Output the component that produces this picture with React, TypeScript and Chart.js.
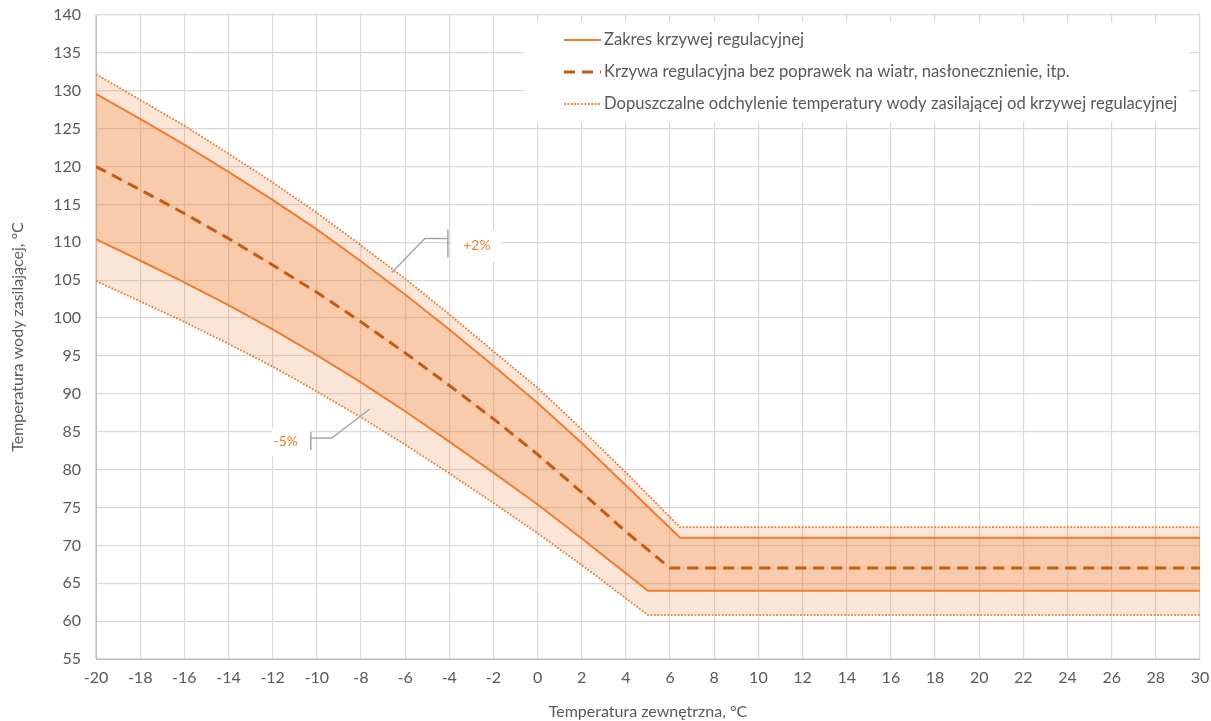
import React, { useEffect, useRef } from 'react';
import { Chart, registerables } from 'chart.js';

Chart.register(...registerables);

// Outdoor temperature (°C) points for each curve
const centerX = [-20, -18, -16, -14, -12, -10, -8, -6, -4, -2, 0, 2, 4, 6, 30];
const upperX = [-20, -18, -16, -14, -12, -10, -8, -6, -4, -2, 0, 2, 4, 6.45, 30];
const lowerX = [-20, -18, -16, -14, -12, -10, -8, -6, -4, -2, 0, 2, 4, 5, 30];

// Supply water temperature (°C)
const centerY = [120, 116.95, 113.8, 110.5, 107.0, 103.4, 99.5, 95.4, 91.1, 86.7, 82.0, 77.0, 71.8, 67, 67];
const upperY = [129.6, 126.3, 122.9, 119.3, 115.6, 111.7, 107.5, 103.1, 98.5, 93.7, 88.8, 83.5, 77.9, 71, 71];
const lowerY = [110.4, 107.6, 104.7, 101.7, 98.5, 95.1, 91.5, 87.7, 83.7, 79.6, 75.4, 70.9, 66.3, 64, 64];
const upperTolY = [132.2, 128.8, 125.4, 121.7, 117.9, 113.9, 109.6, 105.2, 100.5, 95.6, 90.8, 85.3, 79.6, 72.4, 72.4];
const lowerTolY = [104.9, 102.2, 99.5, 96.6, 93.6, 90.3, 86.9, 83.3, 79.5, 75.6, 71.6, 67.4, 63.0, 60.8, 60.8];

const legendLabels = [
  'Zakres krzywej regulacyjnej',
  'Krzywa regulacyjna bez poprawek na wiatr, nasłonecznienie, itp.',
  'Dopuszczalne odchylenie temperatury wody zasilającej od krzywej regulacyjnej',
];
const xTitle = 'Temperatura zewnętrzna, °C';
const yTitle = 'Temperatura wody zasilającej, °C';
const plusLabel = '+2%';
const minusLabel = '-5%';
// annotation anchor points (data coordinates) on the tolerance curves
const plusAnchor = { x: -6.6, y: 106.0 };
const minusAnchor = { x: -7.6, y: 88.0 };

const ORANGE = '#ED7D31';
const DARK = '#C55A11';
const TEXT = '#595959';
const FONT = 'Lato, "Open Sans", sans-serif';

const pts = (xs: number[], ys: number[]) => xs.map((x, i) => ({ x, y: ys[i] }));

const overlay = {
  id: 'overlay',
  afterDatasetsDraw(chart: any) {
    const ctx = chart.ctx as CanvasRenderingContext2D;
    const xs = chart.scales.x;
    const ys = chart.scales.y;
    ctx.save();
    // legend box
    const lx = 524, ly = 22, lw = 666, lh = 100;
    ctx.fillStyle = '#ffffff';
    ctx.fillRect(lx, ly, lw, lh);
    const rows = [40, 72, 104];
    ctx.font = `16.6px ${FONT}`;
    ctx.textBaseline = 'middle';
    ctx.textAlign = 'left';
    rows.forEach((ry, i) => {
      ctx.beginPath();
      if (i === 0) {
        ctx.strokeStyle = ORANGE; ctx.lineWidth = 2; ctx.setLineDash([]);
      } else if (i === 1) {
        ctx.strokeStyle = DARK; ctx.lineWidth = 3; ctx.setLineDash([11, 7]);
      } else {
        ctx.strokeStyle = ORANGE; ctx.lineWidth = 1.8; ctx.setLineDash([1.8, 1.6]);
      }
      ctx.moveTo(564, ry);
      ctx.lineTo(601, ry);
      ctx.stroke();
      ctx.setLineDash([]);
      ctx.fillStyle = TEXT;
      ctx.fillText(legendLabels[i], 604, ry);
    });

    // +2% annotation
    const px = xs.getPixelForValue(plusAnchor.x);
    const py = ys.getPixelForValue(plusAnchor.y);
    ctx.fillStyle = '#ffffff';
    ctx.fillRect(px + 60, py - 43, 50, 32);
    ctx.strokeStyle = '#A6A6A6';
    ctx.lineWidth = 1.5;
    ctx.beginPath();
    ctx.moveTo(px, py);
    ctx.lineTo(px + 33, py - 34);
    ctx.lineTo(px + 56, py - 34);
    ctx.moveTo(px + 56, py - 43);
    ctx.lineTo(px + 56, py - 15);
    ctx.stroke();
    ctx.fillStyle = ORANGE;
    ctx.font = `14px ${FONT}`;
    ctx.textAlign = 'center';
    ctx.fillText(plusLabel, px + 85, py - 27);

    // -5% annotation
    const mx = xs.getPixelForValue(minusAnchor.x);
    const my = ys.getPixelForValue(minusAnchor.y);
    ctx.fillStyle = '#ffffff';
    ctx.fillRect(mx - 98, my + 19, 39, 28);
    ctx.strokeStyle = '#A6A6A6';
    ctx.beginPath();
    ctx.moveTo(mx, my);
    ctx.lineTo(mx - 38, my + 29);
    ctx.lineTo(mx - 59, my + 29);
    ctx.moveTo(mx - 59, my + 23);
    ctx.lineTo(mx - 59, my + 41);
    ctx.stroke();
    ctx.fillStyle = ORANGE;
    ctx.fillText(minusLabel, mx - 84, my + 33);
    ctx.restore();
  },
};

export default function App() {
  const ref = useRef<HTMLCanvasElement>(null);
  useEffect(() => {
    document.body.style.margin = '0';
    const canvas = ref.current!;
    const chart = new Chart(canvas, {
      type: 'line',
      data: {
        datasets: [
          {
            label: 'tolUpper',
            data: pts(upperX, upperTolY),
            borderColor: ORANGE,
            borderWidth: 1.8,
            borderDash: [1.8, 1.6],
            backgroundColor: 'rgba(237,125,49,0.2)',
            fill: { target: 1 },
            pointRadius: 0,
            order: 2,
          },
          {
            label: 'upper',
            data: pts(upperX, upperY),
            borderColor: ORANGE,
            borderWidth: 2,
            backgroundColor: 'rgba(237,125,49,0.4)',
            fill: { target: 2 },
            pointRadius: 0,
            order: 2,
          },
          {
            label: 'lower',
            data: pts(lowerX, lowerY),
            borderColor: ORANGE,
            borderWidth: 2,
            backgroundColor: 'rgba(237,125,49,0.2)',
            fill: { target: 3 },
            pointRadius: 0,
            order: 2,
          },
          {
            label: 'tolLower',
            data: pts(lowerX, lowerTolY),
            borderColor: ORANGE,
            borderWidth: 1.8,
            borderDash: [1.8, 1.6],
            fill: false,
            pointRadius: 0,
            order: 2,
          },
          {
            label: 'centerThin',
            data: pts(centerX, centerY),
            borderColor: '#F4B183',
            borderWidth: 1,
            fill: false,
            pointRadius: 0,
            order: 1,
          },
          {
            label: 'center',
            data: pts(centerX, centerY),
            borderColor: DARK,
            borderWidth: 3,
            borderDash: [11, 7],
            fill: false,
            pointRadius: 0,
            order: 0,
          },
        ],
      },
      options: {
        responsive: false,
        animation: false,
        layout: { padding: { top: 15, right: 11, left: 0, bottom: 0 } },
        plugins: {
          legend: { display: false },
          tooltip: { enabled: false },
          filler: { drawTime: 'beforeDatasetsDraw' },
        } as any,
        scales: {
          x: {
            type: 'linear',
            min: -20,
            max: 30,
            ticks: { stepSize: 2, color: TEXT, font: { family: FONT, size: 16 }, padding: 9, maxRotation: 0, autoSkip: false },
            grid: { color: '#D9D9D9', drawTicks: false, lineWidth: 1.2 },
            border: { color: '#BFBFBF' },
            title: { display: true, text: xTitle, color: TEXT, font: { family: FONT, size: 16 }, padding: { top: 0, bottom: 0 } },
            afterFit: (s: any) => { s.height = 62; s.paddingLeft = 0; s.paddingRight = 0; },
          },
          y: {
            type: 'linear',
            min: 55,
            max: 140,
            ticks: { stepSize: 5, color: TEXT, font: { family: FONT, size: 16 }, padding: 15 },
            grid: { color: '#D9D9D9', drawTicks: false, lineWidth: 1.2 },
            border: { color: '#BFBFBF' },
            title: { display: true, text: yTitle, color: TEXT, font: { family: FONT, size: 16 }, padding: { top: 8, bottom: 0 } },
            afterFit: (s: any) => { s.width = 96; s.paddingTop = 0; s.paddingBottom = 0; },
          },
        },
      },
      plugins: [overlay],
    });
    return () => chart.destroy();
  }, []);
  return (
    <div style={{ width: 1211, height: 721 }}>
      <canvas ref={ref} width={1211} height={721} />
    </div>
  );
}
